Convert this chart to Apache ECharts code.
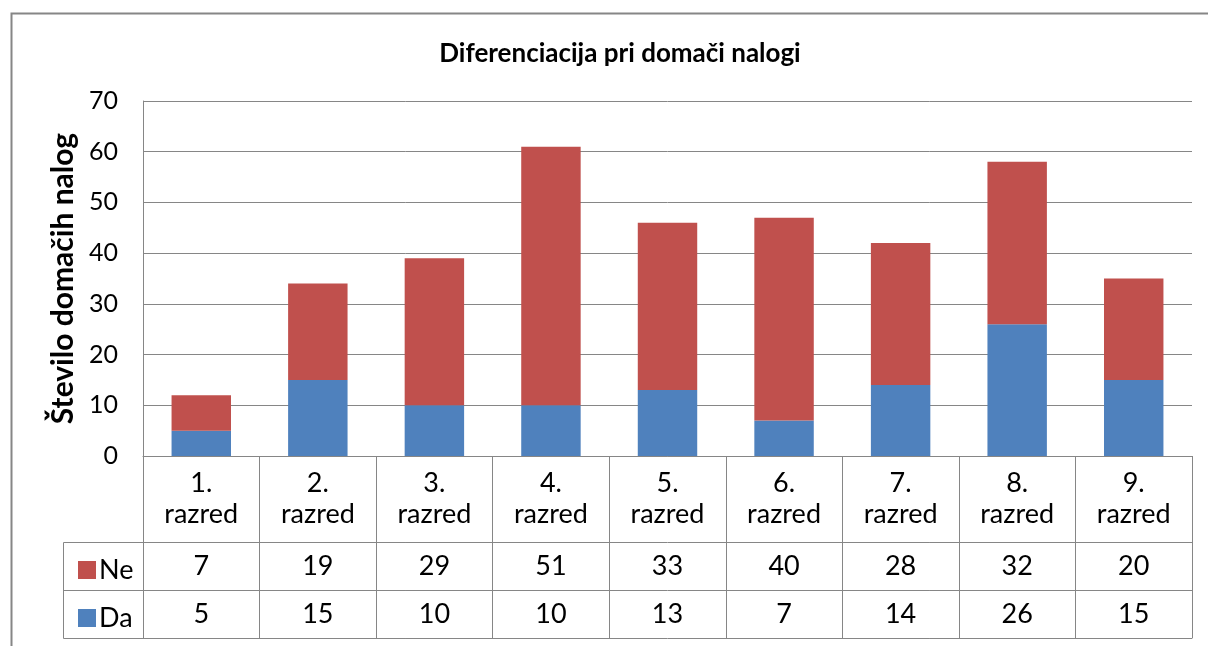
<!DOCTYPE html>
<html>
<head>
<meta charset="utf-8">
<script src="https://cdn.jsdelivr.net/npm/echarts@6/dist/echarts.min.js"></script>
<style>
  html, body { margin: 0; padding: 0; background: #fff; }
  #chart { width: 1208px; height: 646px; }
</style>
</head>
<body>
<div id="chart"></div>
<script>
// podatki
var razredi = ['1.\nrazred', '2.\nrazred', '3.\nrazred', '4.\nrazred', '5.\nrazred',
               '6.\nrazred', '7.\nrazred', '8.\nrazred', '9.\nrazred'];
var ne = [7, 19, 29, 51, 33, 40, 28, 32, 20];
var da = [5, 15, 10, 10, 13, 7, 14, 26, 15];
var yTicks = [0, 10, 20, 30, 40, 50, 60, 70];

var fontFam = 'Lato, "Open Sans", sans-serif';
var lineCol = '#868686';

var chart = echarts.init(document.getElementById('chart'));

var option = {
  animation: false,
  backgroundColor: '#fff',
  title: {
    text: 'Diferenciacija pri domači nalogi',
    left: 615,
    textAlign: 'center',
    top: 36,
    textStyle: { fontFamily: fontFam, fontSize: 26, fontWeight: 'bold', color: '#000' }
  },
  legend: {
    data: ['Ne', 'Da'],
    orient: 'vertical',
    left: 73,
    top: 548,
    itemWidth: 18,
    itemHeight: 18,
    itemGap: 14,
    icon: 'rect',
    textStyle: { fontFamily: fontFam, fontSize: 27, lineHeight: 28, color: '#000', padding: [0, 0, 6, -2] }
  },
  grid: { left: 143, right: 16, top: 101, bottom: 190 },
  yAxis: {
    type: 'value',
    min: yTicks[0],
    max: yTicks[yTicks.length - 1],
    interval: 10,
    name: 'Število domačih nalog',
    nameLocation: 'middle',
    nameGap: 63,
    nameTextStyle: { fontFamily: fontFam, fontSize: 30, fontWeight: 'bold', color: '#000' },
    axisLine: { show: true, lineStyle: { color: lineCol, width: 1 } },
    axisTick: { show: false },
    axisLabel: { fontFamily: fontFam, fontSize: 25, color: '#000', margin: 25 },
    splitLine: { show: true, lineStyle: { color: lineCol, width: 1 } }
  },
  xAxis: [
    {
      type: 'category',
      data: razredi,
      position: 'bottom',
      axisLine: { show: true, lineStyle: { color: lineCol, width: 1 } },
      axisTick: { show: true, interval: 0, length: 182, lineStyle: { color: lineCol, width: 1 } },
      axisLabel: { interval: 0, fontFamily: fontFam, fontSize: 27, lineHeight: 31, color: '#000', margin: 12 }
    },
    {
      type: 'category',
      data: razredi,
      position: 'bottom',
      offset: 86,
      axisLine: { show: true, lineStyle: { color: lineCol, width: 1 } },
      axisTick: { show: false },
      axisLabel: {
        interval: 0, fontFamily: fontFam, fontSize: 27, lineHeight: 30, color: '#000', margin: 9,
        formatter: function (v, i) { return String(ne[i]); }
      }
    },
    {
      type: 'category',
      data: razredi,
      position: 'bottom',
      offset: 134,
      axisLine: { show: true, lineStyle: { color: lineCol, width: 1 } },
      axisTick: { show: false },
      axisLabel: {
        interval: 0, fontFamily: fontFam, fontSize: 27, lineHeight: 30, color: '#000', margin: 9,
        formatter: function (v, i) { return String(da[i]); }
      }
    },
    {
      type: 'category',
      data: razredi,
      position: 'bottom',
      offset: 182,
      axisLine: { show: true, lineStyle: { color: lineCol, width: 1 } },
      axisTick: { show: false },
      axisLabel: { show: false }
    }
  ],
  series: [
    {
      name: 'Da',
      type: 'bar',
      stack: 'skupaj',
      data: da,
      barWidth: '51%',
      itemStyle: { color: '#4F81BD' }
    },
    {
      name: 'Ne',
      type: 'bar',
      stack: 'skupaj',
      data: ne,
      barWidth: '51%',
      itemStyle: { color: '#C0504D' }
    }
  ],
  graphic: [
    // okvir grafikona
    {
      type: 'rect', silent: true, z: -1,
      shape: { x: 11.5, y: 13.5, width: 1300, height: 700 },
      style: { fill: 'none', stroke: lineCol, lineWidth: 2 }
    },
    // levi stolpec tabele
    {
      type: 'rect', silent: true,
      shape: { x: 63.5, y: 542.5, width: 80, height: 96 },
      style: { fill: 'none', stroke: lineCol, lineWidth: 1 }
    },
    {
      type: 'line', silent: true,
      shape: { x1: 63.5, y1: 590.5, x2: 143.5, y2: 590.5 },
      style: { stroke: lineCol, lineWidth: 1 }
    }
  ]
};

chart.setOption(option);
</script>
</body>
</html>
